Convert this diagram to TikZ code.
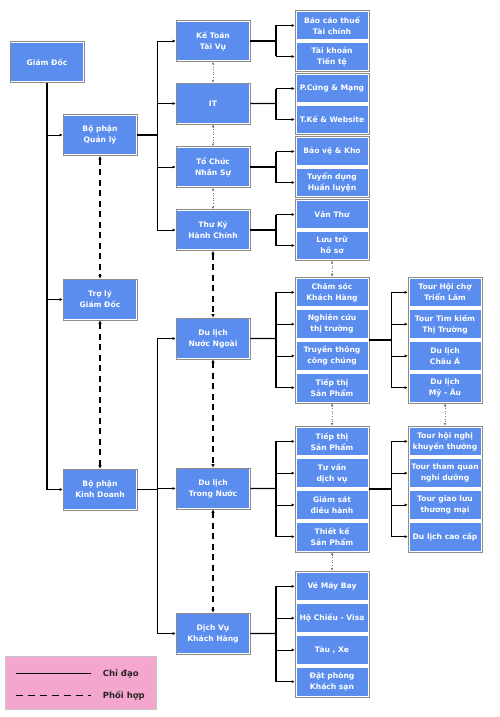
\documentclass[tikz,border=0pt]{standalone}
\usepackage{fontspec}
\setmainfont{DejaVu Sans}
\usepackage{tikz}
\usetikzlibrary{arrows.meta, positioning, calc}
\definecolor{mBlue}{HTML}{5A8DEE}
\definecolor{mGray}{HTML}{8C8C8C}
\definecolor{mPink}{HTML}{F5A6CE}

\begin{document}
\begin{tikzpicture}[x=1pt, y=-1pt,
    box/.style={draw=mGray, fill=white, line width=0.6pt, minimum width=74pt, minimum height=41pt,
      inner sep=0pt, align=center, text=white, font=\fontsize{7.6}{11}\selectfont\bfseries,
      path picture={\fill[mBlue] ([shift={(1.4pt,-1.4pt)}]path picture bounding box.north west)
        rectangle ([shift={(-1.4pt,1.4pt)}]path picture bounding box.south east);}},
    grp/.style={draw=mGray, fill=white, line width=0.6pt, minimum width=74pt, inner sep=0pt},
    item/.style={fill=mBlue, minimum width=71pt, inner sep=0pt, align=center, text=white,
      font=\fontsize{7.6}{11}\selectfont\bfseries},
    trunk/.style={line width=1.4pt},
    branch/.style={line width=0.6pt, -{Latex[length=3pt, width=3pt]}},
    coop/.style={line width=1.5pt, dash pattern=on 6pt off 4.5pt,
      {Latex[length=3.5pt, width=3.5pt]}-{Latex[length=3.5pt, width=3.5pt]}},
    adj/.style={line width=0.6pt, draw=black!55, dotted,
      {Latex[length=2.5pt, width=2.5pt]}-{Latex[length=2.5pt, width=2.5pt]}},
    lbl/.style={inner sep=0pt, text=black!85, font=\fontsize{8.5}{10}\selectfont\bfseries},
  ]
  \useasboundingbox (0,0) rectangle (500,717);

  % cấp 1
  \node[box] (gd) at (47,62) {Giám Đốc};
  \node[box] (ql) at (100,135) {Bộ phận\\Quản lý};
  \node[box] (tl) at (100,299.5) {Trợ lý\\Giám Đốc};
  \node[box] (kd) at (100,489.5) {Bộ phận\\Kinh Doanh};

  % cấp 2
  \foreach \name/\y/\txt in {ktoan/41/{Kế Toán\\Tài Vụ}, it/103.5/IT, tcns/167/{Tổ Chức\\Nhân Sự},
      tkhc/230/{Thư Ký\\Hành Chính}, dlnn/338.5/{Du lịch\\Nước Ngoài},
      dltn/488.5/{Du lịch\\Trong Nước}, dvkh/633.5/{Dịch Vụ\\Khách Hàng}}
    \node[box] (\name) at (213,\y) {\txt};

  % nhóm hai ô
  \node[grp, minimum height=61pt] (g1) at (332,41) {};
  \foreach \txt [count=\i from 0] in {{Báo cáo thuế\\Tài chính}, {Tài khoản\\Tiền tệ}}
    \node[item, minimum height=27pt] (g1-\i) at (332,25.5+\i*31) {\txt};
  \node[grp, minimum height=61pt] (g2) at (332,104) {};
  \foreach \txt [count=\i from 0] in {P.Cứng \& Mạng, T.Kế \& Website}
    \node[item, minimum height=27pt] (g2-\i) at (332,88.5+\i*31) {\txt};
  \node[grp, minimum height=61pt] (g3) at (332,167) {};
  \foreach \txt [count=\i from 0] in {Bảo vệ \& Kho, {Tuyển dụng\\Huấn luyện}}
    \node[item, minimum height=27pt] (g3-\i) at (332,151.5+\i*31) {\txt};
  \node[grp, minimum height=61pt] (g4) at (332,230) {};
  \foreach \txt [count=\i from 0] in {Văn Thư, {Lưu trữ\\hồ sơ}}
    \node[item, minimum height=27pt] (g4-\i) at (332,214.5+\i*31) {\txt};

  % nhóm bốn ô
  \node[grp, minimum height=126pt] (g5) at (332,340) {};
  \foreach \txt [count=\i from 0] in {{Chăm sóc\\Khách Hàng}, {Nghiên cứu\\thị trường},
      {Truyền thông\\công chúng}, {Tiếp thị\\Sản Phẩm}}
    \node[item, minimum height=27.75pt] (g5-\i) at (332,292.375+\i*31.75) {\txt};
  \node[grp, minimum height=126pt] (g6) at (332,489) {};
  \foreach \txt [count=\i from 0] in {{Tiếp thị\\Sản Phẩm}, {Tư vấn\\dịch vụ},
      {Giám sát\\điều hành}, {Thiết kế\\Sản Phẩm}}
    \node[item, minimum height=27.75pt] (g6-\i) at (332,441.375+\i*31.75) {\txt};
  \node[grp, minimum height=126pt] (g7) at (332,634) {};
  \foreach \txt [count=\i from 0] in {Vé Máy Bay, Hộ Chiếu - Visa, {Tàu , Xe}, {Đặt phòng\\Khách sạn}}
    \node[item, minimum height=27.75pt] (g7-\i) at (332,586.375+\i*31.75) {\txt};
  \node[grp, minimum height=126pt] (g8) at (445,340) {};
  \foreach \txt [count=\i from 0] in {{Tour Hội chợ\\Triển Lãm}, {Tour Tìm kiếm\\Thị Trường},
      {Du lịch\\Châu Á}, {Du lịch\\Mỹ - Âu}}
    \node[item, minimum height=27.75pt] (g8-\i) at (445,292.375+\i*31.75) {\txt};
  \node[grp, minimum height=126pt] (g9) at (445,489) {};
  \foreach \txt [count=\i from 0] in {{Tour hội nghị\\khuyến thưởng}, {Tour tham quan\\nghỉ dưỡng},
      {Tour giao lưu\\thương mại}, Du lịch cao cấp}
    \node[item, minimum height=27.75pt] (g9-\i) at (445,441.375+\i*31.75) {\txt};

  % chỉ đạo
  \draw[trunk] (gd.south) -- (gd.south |- kd.west);
  \foreach \t in {ql, tl, kd}
    \draw[branch] (gd.south |- \t.west) -- (\t.west);
  \draw[trunk] (ql.east) -- ++(20,0) coordinate (bql);
  \draw[trunk] (bql |- ktoan.west) -- (bql |- tkhc.west);
  \foreach \t in {ktoan, it, tcns, tkhc}
    \draw[branch] (bql |- \t.west) -- (\t.west);
  \draw[trunk] (kd.east) -- ++(20,0) coordinate (bkd);
  \draw[trunk] (bkd |- dlnn.west) -- (bkd |- dvkh.west);
  \foreach \t in {dlnn, dltn, dvkh}
    \draw[branch] (bkd |- \t.west) -- (\t.west);
  \foreach \src/\g/\n in {ktoan/g1/1, it/g2/1, tcns/g3/1, tkhc/g4/1,
      dlnn/g5/3, dltn/g6/3, dvkh/g7/3, g5/g8/3, g6/g9/3} {
    \coordinate (bus) at ($(\src.east)!0.58!(\src.east -| \g.west)$);
    \draw[trunk] (\src.east) -- (bus);
    \draw[trunk] (bus |- \g-0) -- (bus |- \g-\n);
    \foreach \i in {0,...,\n}
      \draw[branch] (bus |- \g-\i) -- (\g-\i -| \g.west);
  }

  % phối hợp
  \draw[coop] (ql.south) -- (tl.north);
  \draw[coop] (tl.south) -- (kd.north);
  \draw[coop] (tkhc.south) -- (dlnn.north);
  \draw[coop] (dlnn.south) -- (dltn.north);
  \draw[coop] (dltn.south) -- (dvkh.north);
  \draw[adj] (ktoan.south) -- (it.north);
  \draw[adj] (it.south) -- (tcns.north);
  \draw[adj] (tcns.south) -- (tkhc.north);
  \draw[adj] (g4.south) -- (g5.north);
  \draw[adj] (g5.south) -- (g6.north);
  \draw[adj] (g6.south) -- (g7.north);
  \draw[adj] (g8.south) -- (g9.north);

  % chú thích
  \node[draw=gray!45, fill=mPink, line width=0.8pt, minimum width=151pt, minimum height=53pt,
    inner sep=0pt] (legend) at (80.5,682.5) {};
  \draw[line width=1.4pt] ([shift={(11,18)}]legend.north west) -- ++(75,0) coordinate (cd);
  \draw[line width=1.4pt, dash pattern=on 7pt off 5pt] ([shift={(11,40)}]legend.north west)
    -- ++(75,0) coordinate (ph);
  \node[lbl, right=12pt of cd] (cdtxt) {Chỉ đạo};
  \node[lbl, right=12pt of ph] (phtxt) {Phối hợp};
\end{tikzpicture}
\end{document}
